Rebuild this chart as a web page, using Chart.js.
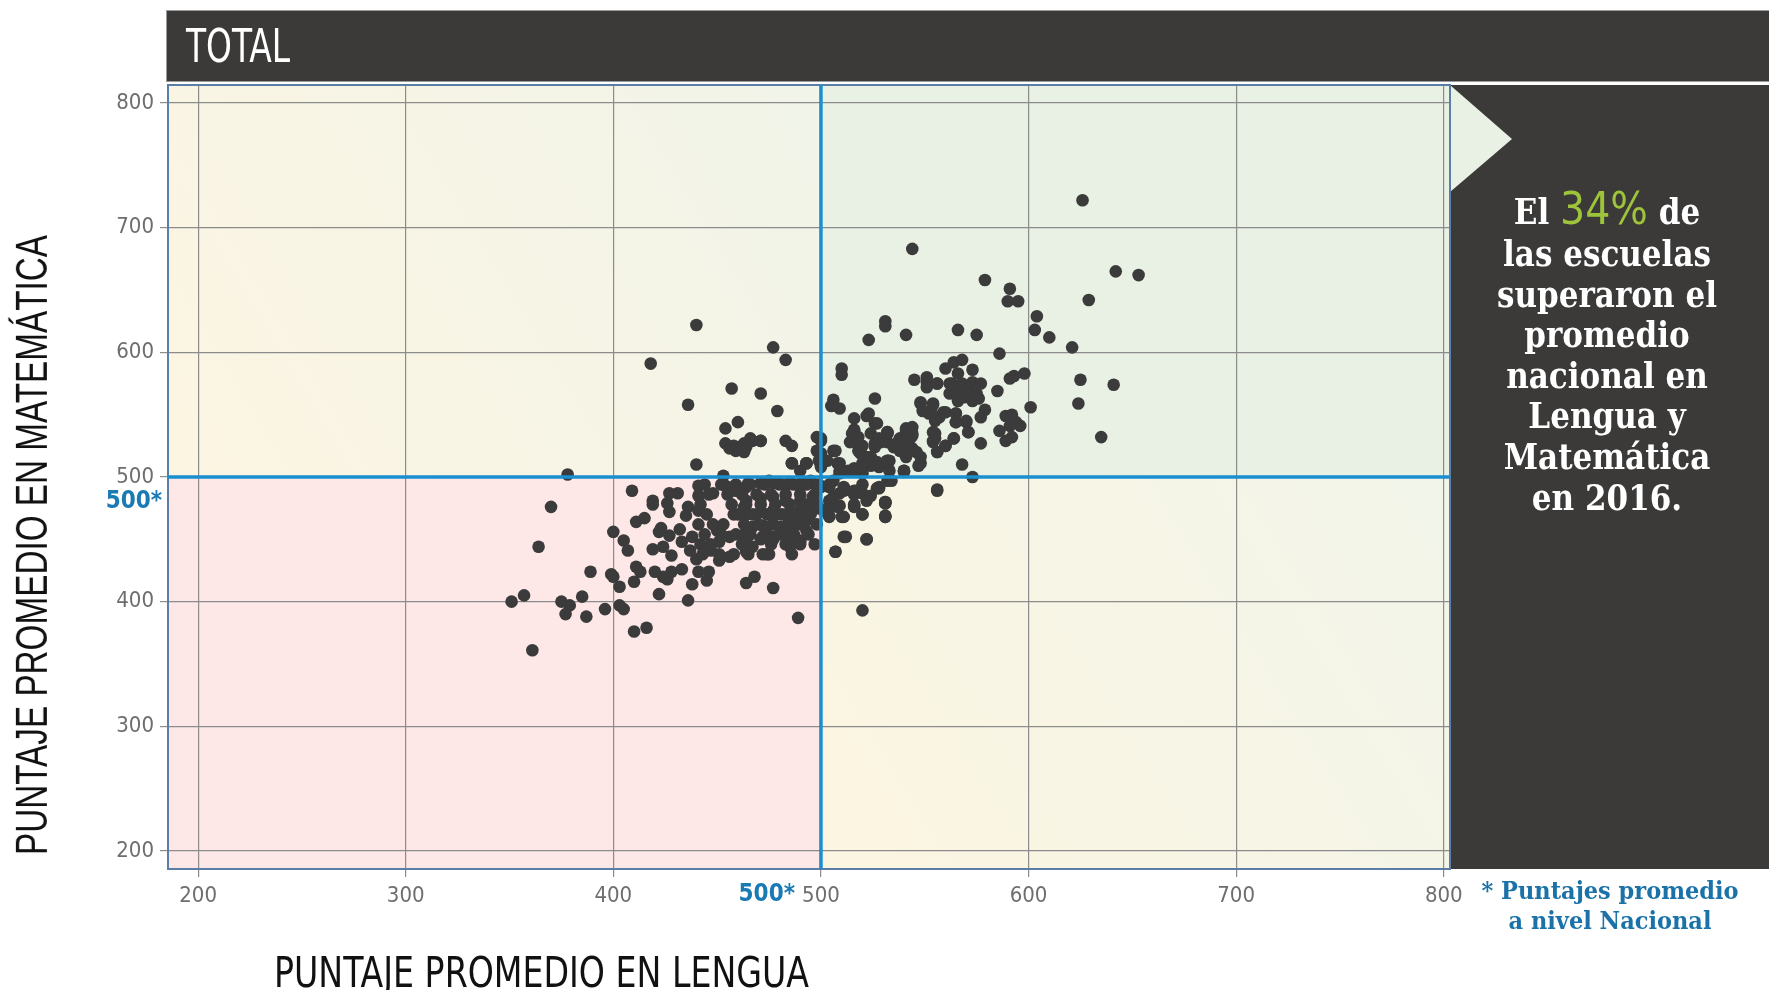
<!DOCTYPE html>
<html>
<head>
<meta charset="utf-8">
<script src="https://cdn.jsdelivr.net/npm/chart.js@4"></script>
<style>
  body { margin:0; background:#fff; width:1769px; height:990px; overflow:hidden; position:relative; }
  #myChart { position:absolute; left:0; top:0; z-index:1; }
  .abs { position:absolute; white-space:nowrap; }
  #titleBar { left:166px; top:10px; width:1603px; height:72px; background:#3b3a39; border:1px solid #9c9c9c; border-right:none; box-sizing:border-box; z-index:0; }
  #titleTxt { left:186px; top:46px; color:#fff; font:46px "Liberation Sans Narrow","DejaVu Sans Condensed",sans-serif; z-index:2; transform-origin:left center; }
  #panel { left:1450px; top:85px; width:319px; height:784px; background:#3b3a39; z-index:0; }
  #msg { left:1447px; top:183px; width:320px; text-align:center; color:#fff; font:bold 34.5px/40.6px "DejaVu Serif Condensed","DejaVu Serif",serif; z-index:2; white-space:normal; }
  #msg .pct { color:#9dc43b; font:44px "Liberation Sans Narrow","DejaVu Sans Condensed",sans-serif; }
  #note { left:1450px; top:876px; width:320px; text-align:center; color:#1b72a8; font:bold 25px/30px "DejaVu Serif Condensed","DejaVu Serif",serif; z-index:2; white-space:normal; }
  #xTitle { left:274px; top:948px; color:#111; font:42px "Liberation Sans Narrow","DejaVu Sans Condensed",sans-serif; z-index:2; transform-origin:left center; }
  #yTitle { color:#111; font:44px "Liberation Sans","DejaVu Sans",sans-serif; z-index:2; }
</style>
</head>
<body>
<div id="titleBar" class="abs"></div>
<div id="titleTxt" class="abs">TOTAL</div>
<div id="panel" class="abs"></div>
<canvas id="myChart" width="1769" height="990"></canvas>
<div id="msg" class="abs">El <span class="pct">34%</span> de<br>las escuelas<br>superaron el<br>promedio<br>nacional en<br>Lengua y<br>Matemática<br>en 2016.</div>
<div id="note" class="abs">* Puntajes promedio<br>a nivel Nacional</div>
<div id="xTitle" class="abs">PUNTAJE PROMEDIO EN LENGUA</div>
<div id="yTitle" class="abs">PUNTAJE PROMEDIO EN MATEMÁTICA</div>
<script>
//----------------------------------- data
const xTicks = [200, 300, 400, 500, 600, 700, 800]
const yTicks = [200, 300, 400, 500, 600, 700, 800]
const nationalAvg = 500
// puntaje promedio en lengua (x) y en matemática (y), one entry per school
const lengua = [
  626,544,642,653,579,591,590,595,629,604,603,610,531,531,440,566,575,541,523,586,621,477,483,418,457,471,436,479,454,460,
  510,510,560,564,568,566,573,545,551,551,556,563,568,573,577,591,593,598,625,641,585,562,567,571,575,566,573,576,526,506,
  505,509,548,554,549,553,560,557,624,601,579,577,565,570,565,589,592,594,596,591,586,589,592,635,571,564,560,556,555,554,
  577,568,573,556,
  516,516,515,518,522,526,532,526,532,538,541,544,544,541,547,540,534,528,531,531,520,516,520,513,506,500,493,518,522,524,
  528,533,520,509,506,511,504,500,495,508,501,
  515,514,519,524,528,532,537,541,543,542,548,540,532,525,509,518,554,556,507,
  464,471,483,486,486,493,490,500,500,500,
  464,471,477,483,490,496,464,471,477,483,490,496,464,471,477,483,490,495,496,467,474,480,487,493,464,471,477,483,490,464,
  474,485,
  504,509,516,519,504,511,516,522,527,531,531,511,522,507,556,
  454,456,460,463,463,467,471,440,486,493,498,498,378,453,454,459,465,471,475,480,485,491,409,441,441,448,427,431,419,
  370,364,400,405,407,411,415,419,426,427,422,423,427,432,436,441,435,433,438,442,437,440,419,424,428,450,453,458,463,447,
  451,456,451,456,464,467,475,477,485,490,493,483,472,463,469,477,485,493,472,482,490,389,399,400,403,411,413,410,420,424,
  428,426,433,438,441,446,445,422,436,464,468,477,489,351,357,375,379,377,385,387,396,403,405,410,416,361,
  504,510,520,531,531,516,509,504,512,522,507,520,
  458,466,463,459,499,500,523,
  516,515,520,526,527,532,532,529,535,538,541,544,544,542,548,
  503,508,509,516,520,524,527,532,533,540,516,
  548,554,559,552,555,565,570,565,571,555,554,560,564,546,551,556,562,567,563,569,575,575,
  504,511,517,520,528,532,531,506,516,524,
  444,452,459,466,473,480,487,493,499,
  446,455,462,469,476,483,490,497,
  442,457,464,471,478,485,492,498,
  445,460,467,474,481,488,495,
  441,448,463,470,477,484,491,498,
  444,452,459,466,473,480,487,494,
  447,462,476,483,490,497,
  443,451,458,465,472,486
]
const matematica = [
  722,683,665,662,658,651,641,641,642,629,618,612,625,621,622,618,614,614,610,599,604,604,594,591,571,567,558,553,539,544,
  587,582,587,592,594,583,586,578,580,576,575,574,575,576,575,579,581,583,578,574,569,567,568,570,567,561,561,563,563,562,
  557,555,560,558,553,553,552,548,559,556,554,548,551,544,544,549,550,544,541,541,537,529,532,532,536,531,525,520,531,536,
  527,510,500,489,
  547,538,529,532,549,543,536,527,528,531,539,533,523,516,509,504,497,491,479,469,470,486,487,505,521,531,511,521,516,509,
  508,513,503,503,497,489,481,492,497,476,473,
  535,528,519,535,531,535,528,537,531,520,511,505,513,511,511,505,528,520,521,
  524,529,529,525,511,511,505,529,519,511,
  492,495,495,493,492,495,481,483,484,481,481,484,470,472,473,470,473,476,473,460,460,460,461,465,449,450,452,452,449,441,
  438,444,
  492,487,489,488,468,468,476,481,491,480,468,452,450,440,490,
  527,523,524,521,527,529,529,510,511,511,532,521,502,501,493,489,495,495,497,495,496,496,489,493,485,487,487,487,481,
  476,444,456,449,441,464,467,478,479,472,456,459,453,458,476,473,469,448,452,446,441,434,442,444,437,457,462,470,476,441,
  433,436,448,452,440,444,438,450,446,448,457,454,452,454,470,468,470,468,461,460,462,424,422,420,412,428,424,416,424,420,
  424,418,426,414,424,424,417,406,401,415,420,411,387,400,405,400,397,390,404,388,394,397,394,376,379,361,
  469,468,470,468,479,477,477,477,452,450,440,393,
  525,531,520,521,513,508,551,
  537,529,525,524,543,535,536,528,524,521,531,540,535,524,516,
  513,511,505,507,511,516,512,513,505,505,505,
  559,559,552,551,545,551,545,544,536,535,529,525,531,520,572,575,575,572,575,564,564,564,
  494,492,489,494,492,497,480,484,478,485,
  494,494,494,494,494,494,494,494,494,
  486,486,486,486,486,486,486,486,
  478,478,478,478,478,478,478,478,
  470,470,470,470,470,470,470,
  462,462,462,462,462,462,462,462,
  454,454,454,454,454,454,454,454,
  446,446,446,446,446,446,
  438,438,438,438,438,438
]
const schools = lengua.map((v, i) => ({x: v, y: matematica[i]}))

const tickFont = {family: '"Liberation Sans Narrow","DejaVu Sans Condensed",sans-serif', size: 22}

// quadrant backgrounds, panel arrow, blue national-average lines
const quadrants = {
  id: 'quadrants',
  beforeDraw(chart) {
    const {ctx, chartArea: a, scales: {x, y}} = chart
    const mx = x.getPixelForValue(nationalAvg), my = y.getPixelForValue(nationalAvg)
    ctx.save()
    let g = ctx.createLinearGradient(a.left, my, mx, a.top)
    g.addColorStop(0, '#fcf5e2'); g.addColorStop(1, '#f1f4e9')
    ctx.fillStyle = g; ctx.fillRect(a.left, a.top, mx - a.left, my - a.top)
    ctx.fillStyle = '#fde8e7'; ctx.fillRect(a.left, my, mx - a.left, a.bottom - my)
    ctx.fillStyle = '#e9f1e5'; ctx.fillRect(mx, a.top, a.right - mx, my - a.top)
    g = ctx.createLinearGradient(mx, a.bottom, a.right, my)
    g.addColorStop(0, '#fcf5e1'); g.addColorStop(1, '#f2f5ea')
    ctx.fillStyle = g; ctx.fillRect(mx, my, a.right - mx, a.bottom - my)
    // arrow into the dark panel
    ctx.fillStyle = '#e9f1e5'
    ctx.beginPath()
    ctx.moveTo(a.right, a.top); ctx.lineTo(a.right + 62, a.top + 54); ctx.lineTo(a.right, a.top + 107)
    ctx.closePath(); ctx.fill()
    ctx.restore()
  },
  afterDatasetsDraw(chart) {
    const {ctx, chartArea: a, scales: {x, y}} = chart
    const mx = x.getPixelForValue(nationalAvg), my = y.getPixelForValue(nationalAvg)
    ctx.save()
    ctx.strokeStyle = '#5a7ea6'; ctx.lineWidth = 2
    ctx.strokeRect(a.left, a.top, a.right - a.left, a.bottom - a.top)
    ctx.strokeStyle = '#1a8fd0'; ctx.lineWidth = 3.5
    ctx.beginPath()
    ctx.moveTo(mx, a.top); ctx.lineTo(mx, a.bottom)
    ctx.moveTo(a.left, my); ctx.lineTo(a.right, my)
    ctx.stroke()
    ctx.fillStyle = '#1a7ab3'
    ctx.font = 'bold 24px "Liberation Sans Narrow","DejaVu Sans Condensed",sans-serif'
    ctx.textAlign = 'right'; ctx.textBaseline = 'middle'
    ctx.fillText(nationalAvg + '*', a.left - 6, my + 25)
    ctx.fillText(nationalAvg + '*', mx - 26, a.bottom + 26)
    ctx.restore()
  }
}

const chart = new Chart(document.getElementById('myChart'), {
  type: 'scatter',
  data: {
    datasets: [{
      label: 'escuelas',
      data: schools,
      backgroundColor: '#3b3b3b',
      borderWidth: 0,
      pointRadius: 6.3,
      pointHoverRadius: 6.3
    }]
  },
  options: {
    responsive: false,
    animation: false,
    devicePixelRatio: 1,
    layout: {padding: {left: 88, top: 85, right: 319, bottom: 71}},
    plugins: {legend: {display: false}, tooltip: {enabled: false}},
    events: [],
    scales: {
      x: {
        min: 185.5, max: 803,
        afterBuildTicks: s => { s.ticks = xTicks.map(v => ({value: v})) },
        afterFit: s => { s.height = 50 },
        border: {display: false},
        grid: {color: '#8c8c8c', lineWidth: 1.2, tickLength: 8},
        ticks: {color: '#6e6e6e', font: tickFont, padding: 6}
      },
      y: {
        min: 185.5, max: 814.5,
        afterBuildTicks: s => { s.ticks = yTicks.map(v => ({value: v})) },
        afterFit: s => { s.width = 80 },
        border: {display: false},
        grid: {color: '#8c8c8c', lineWidth: 1.2, tickLength: 8},
        ticks: {color: '#6e6e6e', font: tickFont, padding: 6}
      }
    }
  },
  plugins: [quadrants]
})

// stretch the titles to the lengths of the reference
const tt = document.getElementById('titleTxt')
const tb = tt.getBoundingClientRect()
tt.style.transform = 'translateY(-50%) scaleX(' + (104 / tb.width) + ')'
const xt = document.getElementById('xTitle')
xt.style.transform = 'scaleX(' + (535 / xt.getBoundingClientRect().width) + ')'
const yt = document.getElementById('yTitle')
const yb = yt.getBoundingClientRect()
yt.style.left = (32 - yb.width / 2) + 'px'
yt.style.top = (545 - yb.height / 2) + 'px'
yt.style.transform = 'rotate(-90deg) scaleX(' + (620 / yb.width) + ')'
</script>
</body>
</html>
